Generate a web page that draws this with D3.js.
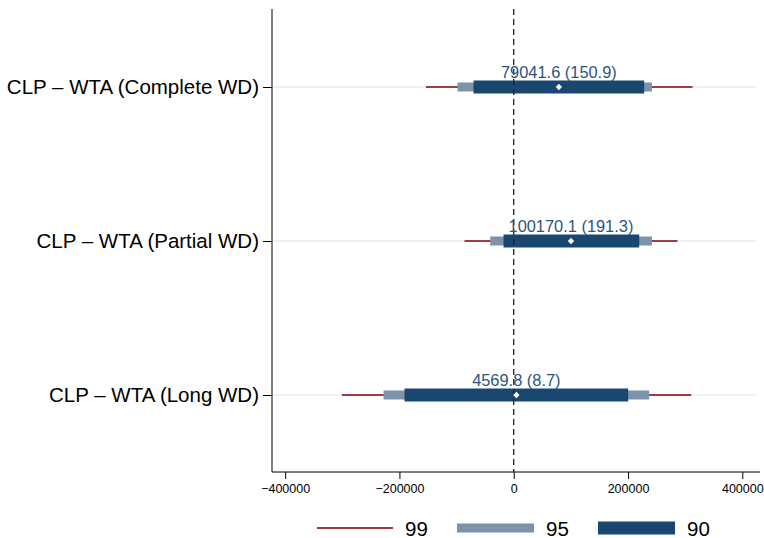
<!DOCTYPE html>
<html>
<head>
<meta charset="utf-8">
<script src="https://cdn.jsdelivr.net/npm/d3@7"></script>
<style>
  body { margin: 0; background: #fff; }
  text { font-family: "Liberation Sans", Arial, Helvetica, sans-serif; }
</style>
</head>
<body>
<div class="chart"></div>
<script>
// data
const categories = ['CLP – WTA (Complete WD)', 'CLP – WTA (Partial WD)', 'CLP – WTA (Long WD)'];
const estimates = [79041.6, 100170.1, 4569.8];
const tstats = [150.9, 191.3, 8.7];
const ci99 = [[-153600, 312900], [-86100, 286600], [-300600, 310600]];
const ci95 = [[-98300, 241800], [-41100, 241800], [-227800, 237100]];
const ci90 = [[-70300, 228300], [-17800, 219600], [-191100, 200300]];
const xTicks = [-400000, -200000, 0, 200000, 400000];
const legendLabels = ['99', '95', '90'];

const W = 764, H = 538;
const plot = { left: 272, right: 756, top: 9, bottom: 472 };
const c99 = '#a03a44', c95 = '#7b93ab', c90 = '#1a476f';

const svg = d3.select('.chart').append('svg')
  .attr('width', W).attr('height', H);

const x = d3.scaleLinear().domain([-423000, 424000]).range([plot.left, plot.right]);
const y = d3.scalePoint().domain(categories).range([87, 395]);

// light grid line per row
svg.append('g').selectAll('line').data(categories).enter().append('line')
  .attr('x1', plot.left + 1).attr('x2', plot.right)
  .attr('y1', d => y(d)).attr('y2', d => y(d))
  .attr('stroke', '#eaf2f3').attr('stroke-width', 2);

// axes
const xAxis = d3.axisBottom(x).tickValues(xTicks).tickSize(7).tickPadding(5)
  .tickFormat(d => d < 0 ? '\u2212' + Math.abs(d) : String(d));
const gx = svg.append('g').attr('transform', 'translate(0,' + plot.bottom + ')').call(xAxis);
gx.select('.domain').attr('d', 'M' + plot.left + ',0H' + (plot.right + 4)).attr('stroke', '#000');
gx.selectAll('.tick line').attr('stroke', '#000');
gx.selectAll('.tick text').attr('font-size', 12.5).attr('fill', '#000')
  .attr('font-family', '"Liberation Sans", Arial, sans-serif');

const yAxis = d3.axisLeft(y).tickSize(9).tickPadding(4);
const gy = svg.append('g').attr('transform', 'translate(' + plot.left + ',0)').call(yAxis);
gy.select('.domain').attr('d', 'M0,' + plot.top + 'V' + plot.bottom).attr('stroke', '#000');
gy.selectAll('.tick line').attr('stroke', '#000');
gy.selectAll('.tick text').attr('font-size', 20.5).attr('fill', '#000')
  .attr('font-family', '"Liberation Sans", Arial, sans-serif');

const rows = categories.map((c, i) => ({ c, est: estimates[i], t: tstats[i], a: ci99[i], b: ci95[i], g: ci90[i] }));

// 99% line
svg.append('g').selectAll('line').data(rows).enter().append('line')
  .attr('x1', d => x(d.a[0])).attr('x2', d => x(d.a[1]))
  .attr('y1', d => y(d.c)).attr('y2', d => y(d.c))
  .attr('stroke', c99).attr('stroke-width', 2);

// 95% bar
svg.append('g').selectAll('rect').data(rows).enter().append('rect')
  .attr('x', d => x(d.b[0])).attr('width', d => x(d.b[1]) - x(d.b[0]))
  .attr('y', d => y(d.c) - 4.5).attr('height', 9)
  .attr('fill', c95);

// 90% bar
svg.append('g').selectAll('rect').data(rows).enter().append('rect')
  .attr('x', d => x(d.g[0])).attr('width', d => x(d.g[1]) - x(d.g[0]))
  .attr('y', d => y(d.c) - 6.5).attr('height', 13)
  .attr('fill', c90);

// zero reference line
svg.append('line')
  .attr('x1', x(0)).attr('x2', x(0))
  .attr('y1', plot.top).attr('y2', plot.bottom)
  .attr('stroke', '#222').attr('stroke-width', 1.3)
  .attr('stroke-dasharray', '6,4');

// point estimates (small white diamonds)
svg.append('g').selectAll('path').data(rows).enter().append('path')
  .attr('d', d3.symbol(d3.symbolSquare, 20))
  .attr('transform', d => 'translate(' + x(d.est) + ',' + y(d.c) + ') rotate(45)')
  .attr('fill', '#fff');

// value labels
svg.append('g').selectAll('text').data(rows).enter().append('text')
  .attr('x', d => x(d.est)).attr('y', d => y(d.c) - 9)
  .attr('text-anchor', 'middle').attr('font-size', 16.4)
  .attr('fill', '#2a5580')
  .text(d => d.est.toFixed(1) + ' (' + d.t.toFixed(1) + ')');

// legend
const lg = svg.append('g');
const ly = 528;
lg.append('line').attr('x1', 317).attr('x2', 393).attr('y1', ly).attr('y2', ly)
  .attr('stroke', c99).attr('stroke-width', 2);
lg.append('rect').attr('x', 457).attr('width', 77).attr('y', ly - 4.5).attr('height', 9).attr('fill', c95);
lg.append('rect').attr('x', 598).attr('width', 77).attr('y', ly - 6.5).attr('height', 13).attr('fill', c90);
const lx = [405, 546, 687];
lg.selectAll('text').data(legendLabels).enter().append('text')
  .attr('x', (d, i) => lx[i]).attr('y', ly + 7.5)
  .attr('font-size', 20.5).attr('fill', '#000')
  .text(d => d);
</script>
</body>
</html>
